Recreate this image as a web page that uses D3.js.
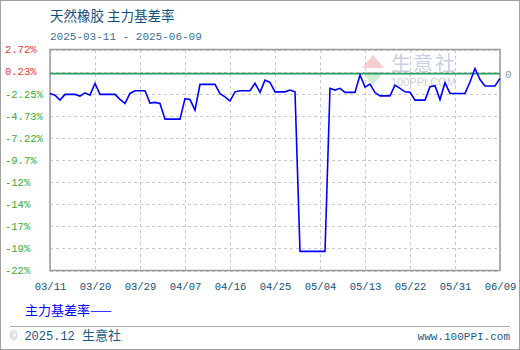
<!DOCTYPE html>
<html>
<head>
<meta charset="utf-8">
<script src="https://cdn.jsdelivr.net/npm/d3@7"></script>
<style>
  body { margin: 0; background: #fff; }
  svg { display: block; }
</style>
</head>
<body>
<div id="chart"></div>
<script>
// basis rate by calendar day, 2025-03-11 .. 2025-06-09 (non-trading days carry last value)
const startDate = "2025-03-11";
const basisRate = [
  -2.22, -2.41, -2.97, -2.33, -2.33, -2.33, -2.52, -2.15, -2.41, -1.09,
  -2.33, -2.33, -2.33, -2.33, -2.89, -3.34, -2.22, -1.92, -1.92, -1.92,
  -3.31, -3.23, -3.34, -5.11, -5.11, -5.11, -5.11, -2.80, -2.91, -4.10,
  -1.20, -1.20, -1.20, -1.20, -2.24, -2.60, -3.08, -2.04, -1.92, -1.92,
  -1.92, -1.09, -2.10, -0.72, -0.98, -2.04, -2.04, -2.04, -1.84, -2.04,
  -19.98, -19.98, -19.98, -19.98, -19.98, -19.98, -1.65, -1.84, -1.65, -2.10,
  -2.10, -2.10, -0.15, -1.51, -1.17, -2.12, -2.49, -2.49, -2.49, -1.28,
  -1.65, -2.04, -2.10, -2.97, -2.97, -2.97, -1.47, -1.34, -2.91, -1.02,
  -2.22, -2.22, -2.22, -2.22, -0.94, 0.58, -0.66, -1.39, -1.39, -1.39,
  -0.52
];
const yTickValues = [2.72, 0.24, -2.25, -4.73, -7.22, -9.70, -12.19, -14.67, -17.16, -19.64, -22.13];
const yTickLabels = ["2.72%", "0.23%", "-2.25%", "-4.73%", "-7.22%", "-9.7%", "-12%", "-14%", "-17%", "-19%", "-22%"];
const xTickLabels = ["03/11", "03/20", "03/29", "04/07", "04/16", "04/25", "05/04", "05/13", "05/22", "05/31", "06/09"];

const W = 520, H = 350;
const plot = { left: 50, right: 500, top: 49.5, bottom: 270.5 };
const mono = "'Liberation Mono', 'DejaVu Sans Mono', monospace";
const cjk = "'Noto Sans CJK SC', 'Noto Sans', sans-serif";

const svg = d3.select("#chart").append("svg")
    .attr("width", W)
    .attr("height", H);

const parse = d3.timeParse("%Y-%m-%d");
const t0 = parse(startDate);
const series = basisRate.map((v, i) => ({ date: d3.timeDay.offset(t0, i), value: v }));

const x = d3.scaleTime()
  .domain([t0, series[series.length - 1].date])
  .range([plot.left, plot.right]);
const y = d3.scaleLinear()
  .domain([yTickValues[yTickValues.length - 1], yTickValues[0]])
  .range([plot.bottom, plot.top]);

const xTickDates = xTickLabels.map(s => parse("2025-" + s.replace("/", "-")));

// outer frame
svg.append("rect")
  .attr("x", 0.5).attr("y", 0.5)
  .attr("width", W - 1).attr("height", H - 1)
  .attr("fill", "none")
  .attr("stroke", "#a0a0a0");

// title
svg.append("text")
  .attr("x", 50).attr("y", 21)
  .attr("font-family", cjk).attr("font-size", 13.5)
  .attr("fill", "#134f7c")
  .text("天然橡胶 主力基差率");
svg.append("text")
  .attr("x", 50).attr("y", 40)
  .attr("font-family", mono).attr("font-size", 11)
  .attr("fill", "#3a6f9a")
  .text("2025-03-11 - 2025-06-09");

// watermark
const wm = svg.append("g").attr("opacity", 0.55);
wm.append("path")
  .attr("d", "M362,68 L373,55 L384,68 Z")
  .attr("fill", "#f2a6a6");
wm.append("path")
  .attr("d", "M362,72 L373,85 L384,72 Z")
  .attr("fill", "#a8e0b0");
wm.append("text")
  .attr("x", 391).attr("y", 71)
  .attr("font-family", cjk).attr("font-size", 20)
  .attr("letter-spacing", 2)
  .attr("fill", "#9aa8c8")
  .text("生意社");
wm.append("text")
  .attr("x", 391).attr("y", 86)
  .attr("font-family", "'Liberation Sans', sans-serif").attr("font-size", 11)
  .attr("fill", "#a8a8a8")
  .text("100PPI.COM");

// grid
const grid = svg.append("g")
  .attr("stroke", "#c8c8c8")
  .attr("stroke-dasharray", "3,3")
  .attr("shape-rendering", "crispEdges");
grid.selectAll(".hg")
  .data(yTickValues)
  .enter().append("line")
    .attr("class", "hg")
    .attr("x1", plot.left).attr("x2", plot.right)
    .attr("y1", d => Math.round(y(d)) + 0.5)
    .attr("y2", d => Math.round(y(d)) + 0.5);
grid.selectAll(".vg")
  .data(xTickDates)
  .enter().append("line")
    .attr("class", "vg")
    .attr("x1", d => Math.round(x(d)) + 0.5)
    .attr("x2", d => Math.round(x(d)) + 0.5)
    .attr("y1", plot.top).attr("y2", plot.bottom);

// plot border
svg.append("rect")
  .attr("x", plot.left).attr("y", plot.top)
  .attr("width", plot.right - plot.left)
  .attr("height", plot.bottom - plot.top)
  .attr("fill", "none")
  .attr("stroke", "#999")
  .attr("stroke-width", 1.5);

// Y axis
const yAxis = svg.append("g")
  .attr("transform", `translate(${plot.left - 45},0)`)
  .call(d3.axisRight(y)
    .tickValues(yTickValues)
    .tickFormat((d, i) => yTickLabels[i])
    .tickSize(0)
    .tickPadding(0));
yAxis.select(".domain").remove();
yAxis.selectAll("text")
  .attr("font-family", mono)
  .attr("font-size", 10.5)
  .attr("fill", d => d > 0 ? "#ee3333" : "#33aa33");

// X axis
const xAxis = svg.append("g")
  .attr("transform", `translate(0,${plot.bottom + 12})`)
  .call(d3.axisBottom(x)
    .tickValues(xTickDates)
    .tickFormat((d, i) => xTickLabels[i])
    .tickSize(0)
    .tickPadding(0));
xAxis.select(".domain").remove();
xAxis.selectAll("text")
  .attr("font-family", mono)
  .attr("font-size", 10.5)
  .attr("fill", "#134f7c");

// zero line
svg.append("line")
  .attr("x1", plot.left).attr("x2", plot.right)
  .attr("y1", y(0)).attr("y2", y(0))
  .attr("stroke", "#2e9a60")
  .attr("stroke-width", 1.8);
svg.append("text")
  .attr("x", plot.right + 5).attr("y", y(0) + 4)
  .attr("font-family", mono).attr("font-size", 11)
  .attr("fill", "#999")
  .text("0");

// series line
const line = d3.line()
  .x(d => x(d.date))
  .y(d => y(d.value));
svg.append("path")
  .datum(series)
  .attr("d", line)
  .attr("fill", "none")
  .attr("stroke", "#0000ff")
  .attr("stroke-width", 1.6);

// legend
svg.append("text")
  .attr("x", 25).attr("y", 315)
  .attr("font-family", cjk).attr("font-size", 13)
  .attr("fill", "#0000ff")
  .text("主力基差率——");

// footer
svg.append("line")
  .attr("x1", 10).attr("x2", 510)
  .attr("y1", 326.5).attr("y2", 326.5)
  .attr("stroke", "#aaa");
const foot = svg.append("text")
  .attr("x", 10).attr("y", 340)
  .attr("font-size", 12)
  .attr("fill", "#1a5a86");
foot.append("tspan").attr("font-family", mono).attr("fill", "#9fb7cc").text("©");
foot.append("tspan").attr("font-family", mono).text(" 2025.12 ");
foot.append("tspan").attr("font-family", cjk).attr("font-size", 13).text("生意社");
svg.append("text")
  .attr("x", 510).attr("y", 340)
  .attr("text-anchor", "end")
  .attr("font-family", mono).attr("font-size", 11)
  .attr("fill", "#1a5a86")
  .text("www.100PPI.com");
</script>
</body>
</html>
